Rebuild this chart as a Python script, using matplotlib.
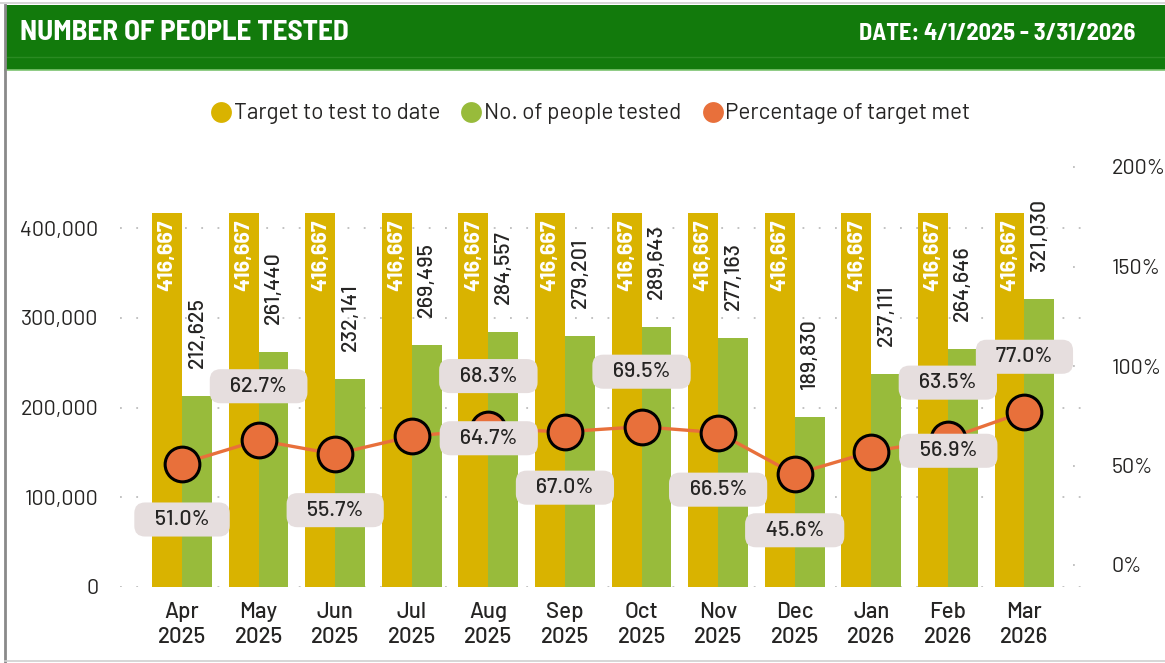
import matplotlib
matplotlib.use("Agg")
import matplotlib.pyplot as plt
from matplotlib import font_manager as fm
from matplotlib.patches import Rectangle
from matplotlib.lines import Line2D
import numpy as np

# ---------------- data ----------------
months = ["Apr\n2025", "May\n2025", "Jun\n2025", "Jul\n2025", "Aug\n2025", "Sep\n2025",
          "Oct\n2025", "Nov\n2025", "Dec\n2025", "Jan\n2026", "Feb\n2026", "Mar\n2026"]
target = [416667] * 12
tested = [212625, 261440, 232141, 269495, 284557, 279201,
          289643, 277163, 189830, 237111, 264646, 321030]
pct = [51.0, 62.7, 55.7, 64.7, 68.3, 67.0, 69.5, 66.5, 45.6, 56.9, 63.5, 77.0]
left_ticks = [0, 100000, 200000, 300000, 400000]
right_ticks = [0, 50, 100, 150, 200]

# label offsets (pixels) for percentage labels
pct_offsets = [(0, -56), (0, 54), (0, -56), (77, -2), (0, 53), (0, -56),
               (0, 55), (0, -57), (0, -56), (77, 1), (0, 56), (0, 55)]

# ---------------- style ----------------
avail = {f.name for f in fm.fontManager.ttflist}
FONT = "DejaVu Sans"
for cand in ["D-DIN", "Barlow", "Roboto"]:
    if cand in avail:
        FONT = cand
        break
HFONT = FONT
for cand in ["Barlow Semi Condensed", "Barlow Condensed", "Roboto Condensed"]:
    if cand in avail:
        HFONT = cand
        break
plt.rcParams["font.family"] = [FONT, "DejaVu Sans"]

GOLD = "#D9B300"
GREEN = "#98BB3B"
ORANGE = "#E8703B"
BOXC = "#E6DEDE"
TXT = "#252423"
HEAD = "#127A0C"
FS = 15.5

W, H = 1165, 663
fig = plt.figure(figsize=(W / 100, H / 100), dpi=100)
fig.patch.set_facecolor("white")

def fx(px):
    return px / W

def fy(py):
    return 1 - py / H

# header
fig.add_artist(Rectangle((fx(5), fy(70)), fx(1165 - 5), (70 - 5) / H,
                         transform=fig.transFigure, facecolor=HEAD, edgecolor="none", zorder=0))
fig.add_artist(Line2D([fx(5), 1], [fy(57), fy(57)], transform=fig.transFigure,
                      color="#2A8A22", lw=1))
fig.add_artist(Line2D([fx(5), 1], [fy(69.5), fy(69.5)], transform=fig.transFigure,
                      color="#7CC46F", lw=1.2))
fig.add_artist(Line2D([fx(0), 1], [fy(3), fy(3)], transform=fig.transFigure,
                      color="#D0D0D0", lw=1.2))
# borders
fig.add_artist(Line2D([fx(5), fx(5)], [fy(5), fy(662)], transform=fig.transFigure,
                      color="#8A8A8A", lw=2))
fig.add_artist(Line2D([fx(5), 1], [fy(660.5), fy(660.5)], transform=fig.transFigure,
                      color="#D0D0D0", lw=1.2))
fig.text(fx(20), fy(32), "NUMBER OF PEOPLE TESTED", color="white", fontsize=21,
         fontweight="bold", va="center", ha="left", family=[HFONT, "DejaVu Sans"])
fig.text(fx(1135), fy(34), "DATE: 4/1/2025 - 3/31/2026", color="white", fontsize=17.5,
         fontweight="bold", va="center", ha="right", family=[HFONT, "DejaVu Sans"])

# axes
ax_left, ax_right, ax_top, ax_bot = 120, 1088, 160, 587
ax = fig.add_axes([fx(ax_left), fy(ax_bot), fx(ax_right - ax_left), (ax_bot - ax_top) / H])
ax2 = ax.twinx()

x = np.arange(len(months))
bw = 0.39
px_per_unit = 89.75 / 100000
ymax = (ax_bot - ax_top) / px_per_unit
ax.set_ylim(0, ymax)
ax.set_xlim(-0.81, 11.83)

pct_px = 199.0 / 100
p0 = 565
ax2.set_ylim(-(ax_bot - p0) / pct_px, (p0 - ax_top) / pct_px)

for a in (ax, ax2):
    for s in a.spines.values():
        s.set_visible(False)
    a.tick_params(length=0)
ax.set_zorder(1)
ax2.set_zorder(2)
ax.patch.set_visible(False)
ax2.patch.set_visible(False)

# grid
for t in left_ticks:
    ax.axhline(t, color="#BDBDBD", lw=1.3, ls=(0, (1, 8)), zorder=0)
for t in right_ticks:
    ax2.axhline(t, xmin=0.985, xmax=1.0, color="#BDBDBD", lw=1.3, ls=(0, (1, 8)), zorder=0)

ax.bar(x - bw / 2, target, bw, color=GOLD, zorder=2)
ax.bar(x + bw / 2, tested, bw, color=GREEN, zorder=2)

for i in range(len(x)):
    ax.annotate(f"{target[i]:,}", (x[i] - bw / 2, target[i]), xytext=(0, -6),
                textcoords="offset pixels", rotation=90, ha="center", va="top",
                color="white", fontsize=FS, fontweight="bold", zorder=3)
    ax.annotate(f"{tested[i]:,}", (x[i] + bw / 2, tested[i]), xytext=(0, 28),
                textcoords="offset pixels", rotation=90, ha="center", va="bottom",
                color=TXT, fontsize=FS, fontweight="medium", zorder=3)

ax.set_yticks(left_ticks)
ax.set_yticklabels([f"{t:,}" for t in left_ticks], fontsize=FS, color=TXT)
ax.tick_params(axis="y", pad=15.5)
ax.set_xticks(x)
ax.set_xticklabels(months, fontsize=16, color=TXT, linespacing=1.3, fontweight="medium")
ax.tick_params(axis="x", pad=11)

ax2.set_yticks(right_ticks)
ax2.set_yticklabels([f"{t}%" for t in right_ticks], fontsize=FS, color=TXT)
ax2.tick_params(axis="y", pad=17)

ax2.plot(x, pct, color=ORANGE, lw=2.4, zorder=3)
ax2.plot(x, pct, ls="none", marker="o", ms=25, mfc=ORANGE, mec="black", mew=2.2, zorder=4)

for i in range(len(x)):
    dx, dy = pct_offsets[i]
    ax2.annotate(f"   {pct[i]:.1f}%   ", (x[i], pct[i]), xytext=(dx, dy),
                 textcoords="offset pixels", ha="center", va="center",
                 fontsize=FS, color=TXT, fontweight="medium", zorder=5,
                 bbox=dict(boxstyle="round,pad=0.35,rounding_size=0.5",
                           fc=BOXC, ec="none"))

# legend
handles = [Line2D([], [], ls="none", marker="o", ms=15, mfc=c, mec="none")
           for c in (GOLD, GREEN, ORANGE)]
fig.legend(handles, ["Target to test to date", "No. of people tested", "Percentage of target met"],
           loc="center", bbox_to_anchor=(fx(590), fy(114)), ncol=3, frameon=False,
           fontsize=16.2, handletextpad=0.05, columnspacing=0.9, handlelength=1.0,
           labelcolor=TXT)

fig.savefig("out.png", dpi=100)
